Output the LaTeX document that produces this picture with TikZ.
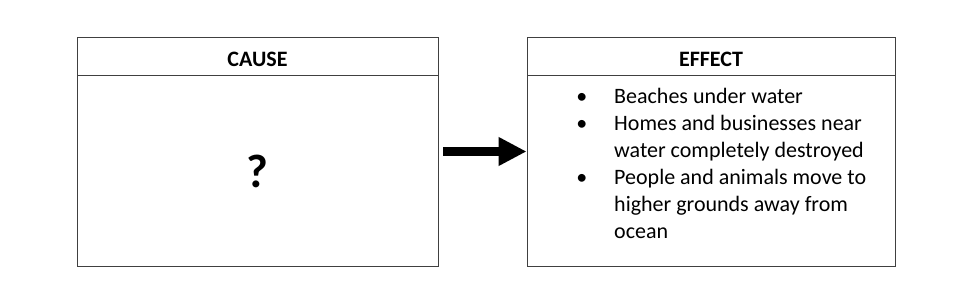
\documentclass[tikz,border=0pt]{standalone}
\usepackage{fontspec}
\setmainfont{Carlito}
\usetikzlibrary{positioning, arrows.meta, calc}

\begin{document}
\begin{tikzpicture}[
  x=1pt, y=1pt,
  panel/.style={draw=black!75, line width=0.9pt, minimum width=#1, minimum height=229pt, inner sep=0pt},
  head/.style ={draw=black!75, line width=0.9pt, minimum width=#1, minimum height=38pt, inner sep=0pt,
                font=\fontsize{22}{27}\selectfont\bfseries, text height=20.2pt, text depth=0pt},
  bigarrow/.style={-{Triangle[length=28pt, width=27pt]}, line width=9pt, draw=black, shorten <=5pt},
]
\useasboundingbox (0,0) rectangle (979,298);

% ---------- Cause ----------
\node[panel=361pt] (cause) at (257.5,146.5) {};
\node[head=361pt, anchor=north] (causehead) at (cause.north) {CAUSE};
\node[font=\fontsize{47}{50}\selectfont\bfseries] (ask) at ($(cause.south)!0.5!(causehead.south)$) {?};

% ---------- Effect ----------
\node[panel=368pt] (effect) at (711,146.5) {};
\node[head=368pt, anchor=north] (effecthead) at (effect.north) {EFFECT};
\node[anchor=base west, inner sep=0pt, font=\fontsize{22}{27}\selectfont] (effects) at (576.2,194.5) {%
  \renewcommand{\arraystretch}{1}%
  \begin{tabular}[t]{@{}p{37.8pt}@{}p{270pt}@{}}
    \textbullet & Beaches under water\\
    \textbullet & Homes and businesses near\newline water completely destroyed\\
    \textbullet & People and animals move to\newline higher grounds away from\newline ocean
  \end{tabular}};

% ---------- flow ----------
\draw[bigarrow] (cause.east) -- (effect.west);

\end{tikzpicture}
\end{document}
